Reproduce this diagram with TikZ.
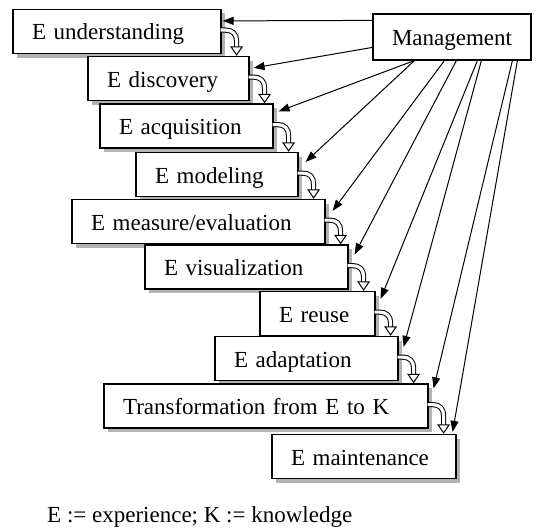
\documentclass[tikz,border=0pt]{standalone}
\usepackage{fontspec}
\setmainfont{Liberation Serif}
\usetikzlibrary{arrows.meta,calc,shadows}

% A hollow turning arrow from the lower right of one step box down onto the next one
\newcommand\stepturn[2]{%
  \coordinate (t0) at ($(#1.south east)+(-1,-24)$);
  \coordinate (t1) at ($(t0)+(16,11)$);
  \coordinate (t2) at (t1 |- #2.north);
  \draw[turnbody] (t0) -- ++(5,0) .. controls +(7,0) and +(0,-7) .. (t1) -- ($(t2)+(0,-8)$);
  \draw[turnhead] ($(t2)+(0,-1)$) -- ++(-5.5,-8) -- ++(11,0) -- cycle;
}

\begin{document}
\begin{tikzpicture}[x=1pt,y=-1pt,
  font=\fontsize{23}{27}\selectfont,
  stepbox/.style={draw=black, line width=1.2pt, fill=white, minimum height=44pt,
    inner xsep=19pt, inner ysep=0pt, align=left, text height=21pt, text depth=4pt,
    general shadow={fill=black!30, shadow xshift=4pt, shadow yshift=-4pt}},
  mgbox/.style={draw=black, line width=1.2pt, fill=white, minimum height=46pt,
    inner xsep=19pt, inner ysep=0pt, align=left, text height=21pt, text depth=4pt},
  mgarrow/.style={-{Triangle[length=11pt,width=8pt]}, line width=1pt},
  turnbody/.style={line width=1pt, double=white, double distance=3.2pt},
  turnhead/.style={line width=1pt, fill=white, line join=miter}]

\useasboundingbox (0,0) rectangle (540,527);

% the staircase of experience activities
\node[stepbox, text width=170pt] (und)  at (117,31.5)  {E understanding};
\node[stepbox, text width=123pt] (disc) at (168.5,78.5) {E discovery};
\node[stepbox, text width=135pt] (acq)  at (186.5,126)  {E acquisition};
\node[stepbox, text width=124pt] (mod)  at (217,174.5)  {E modeling};
\node[stepbox, text width=215pt] (meas) at (198.5,221.5) {E measure/evaluation};
\node[stepbox, text width=165pt] (vis)  at (246.5,267)  {E visualization};
\node[stepbox, text width=77pt]  (reu)  at (317.5,313.5) {E reuse};
\node[stepbox, text width=145pt] (adap) at (306.5,358.5) {E adaptation};
\node[stepbox, text width=286pt] (trans) at (266,406)   {Transformation from E to K};
\node[stepbox, text width=146pt] (maint) at (364,456.5) {E maintenance};

% managing activity
\node[mgbox, text width=120pt] (mgmt) at (452,37) {Management};

% flow from one step to the next
\stepturn{und}{disc}
\stepturn{disc}{acq}
\stepturn{acq}{mod}
\stepturn{mod}{meas}
\stepturn{meas}{vis}
\stepturn{vis}{reu}
\stepturn{reu}{adap}
\stepturn{adap}{trans}
\stepturn{trans}{maint}

% management controls every step
\draw[mgarrow] ($(mgmt.north west)+(0,7)$)  -- ($(und.north east)+(1,12)$);
\draw[mgarrow] ($(mgmt.north west)+(0,34)$) -- ($(disc.north east)+(4,12)$);
\draw[mgarrow] ($(mgmt.south west)+(42,0)$) -- ($(acq.north east)+(5,8)$);
\draw[mgarrow] ($(mgmt.south west)+(42,0)$) -- ($(mod.north east)+(7,10)$);
\draw[mgarrow] ($(mgmt.south west)+(72,0)$) -- ($(meas.north east)+(7,12)$);
\draw[mgarrow] ($(mgmt.south west)+(84,0)$) -- ($(vis.north east)+(6,10)$);
\draw[mgarrow] ($(mgmt.south west)+(105,0)$) -- ($(reu.north east)+(5,8)$);
\draw[mgarrow] ($(mgmt.south west)+(109,0)$) -- ($(adap.north east)+(5,11)$);
\draw[mgarrow] ($(mgmt.south west)+(140,0)$) -- ($(trans.north east)+(5,5)$);
\draw[mgarrow] ($(mgmt.south west)+(145,0)$) -- ($(maint.north east)+(-4,-2)$);

% key
\node[anchor=base west, inner sep=0pt] (key) at (47,522) {E := experience; K := knowledge};

\end{tikzpicture}
\end{document}
